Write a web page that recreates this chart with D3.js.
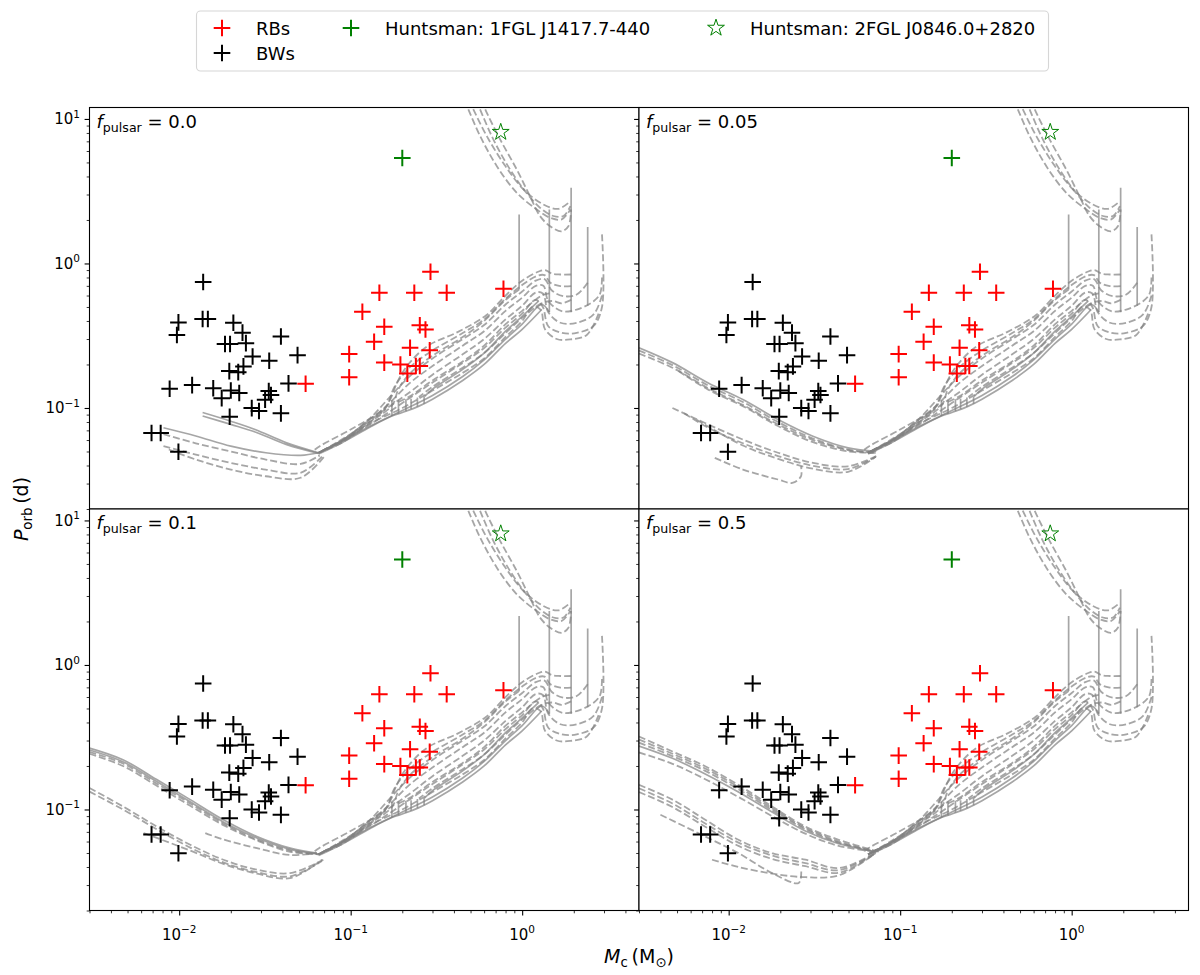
<!DOCTYPE html>
<html><head><meta charset="utf-8">
<script src="https://cdn.jsdelivr.net/npm/d3@7"></script>
<style>
body{margin:0;background:#fff}
svg{display:block}
text{font-family:"DejaVu Sans",sans-serif;fill:#000}
</style>
</head><body>
<svg id="chart" width="1200" height="975"></svg>
<script>
// ---------------- DATA ----------------
const rbMc = [0.292,0.147,0.235,0.363,0.778,0.117,0.157,0.253,0.273,0.137,0.222,0.289,0.098,0.157,0.195,0.214,0.240,0.253,0.098,0.0546];
const rbP  = [0.876,0.627,0.627,0.627,0.668,0.463,0.365,0.374,0.349,0.287,0.261,0.251,0.236,0.206,0.200,0.173,0.195,0.195,0.163,0.147];
const bwMc = [0.0138,0.0137,0.0147,0.0099,0.0097,0.0207,0.0234,0.0245,0.0185,0.0198,0.0392,0.0490,0.0268,0.0335,0.0237,0.0196,0.0221,0.0088,0.0119,0.0158,0.0200,0.0224,0.0177,0.0333,0.0343,0.0317,0.0434,0.0265,0.0292,0.0392,0.0197,0.0069,0.0078,0.0099];
const bwP  = [0.745,0.413,0.413,0.391,0.320,0.389,0.332,0.281,0.277,0.277,0.312,0.232,0.227,0.212,0.194,0.180,0.177,0.136,0.144,0.137,0.132,0.127,0.117,0.131,0.123,0.114,0.148,0.0998,0.0953,0.0918,0.087,0.0671,0.0671,0.0498];
const huntsman1 = [0.2, 5.37];   // 1FGL J1417.7-440
const huntsman2 = [0.75, 8.1];   // 2FGL J0846.0+2820
const fPulsar = ["0.0", "0.05", "0.1", "0.5"];
const xTicks = [0.01, 0.1, 1];
const xTickExp = ["\u22122", "\u22121", "0"];
const yTicks = [0.1, 1, 10];
const yTickExp = ["\u22121", "0", "1"];
const legendLabels = ["RBs", "BWs", "Huntsman: 1FGL J1417.7-440", "Huntsman: 2FGL J0846.0+2820"];

// evolutionary tracks [Mc, Porb] (shared by all panels)
const tracksUpper = [
  [[0.46,13.5],[0.486,11.6],[0.569,7.6],[0.712,4.71],[0.931,3.08],[1.218,2.36],[1.456,2.07],[1.70,2.02],[1.91,2.36]],
  [[0.49,13.5],[0.52,11.6],[0.622,7.6],[0.80,4.7],[1.02,3.25],[1.33,2.56],[1.63,2.39],[1.91,2.7]],
  [[0.54,13.5],[0.569,11.6],[0.68,7.2],[0.85,4.47],[1.06,3.08],[1.27,2.43],[1.52,2.13],[1.74,2.13],[1.91,2.49]],
  [[0.58,13.5],[0.61,11.6],[0.745,7.2],[0.93,4.47],[1.11,2.92],[1.27,2.13],[1.456,1.81],[1.70,1.67],[1.86,1.81],[1.93,2.36]]
];
const tracksVertical = [
  [[0.96,2.18],[0.96,0.66]],
  [[1.44,2.36],[1.44,0.46]],
  [[1.93,3.34],[1.93,0.46]],
  [[2.41,1.79],[2.41,0.51]]
];
const tracksFanDashed = [
  [[1.93,0.839],[1.67,0.839],[1.49,0.85],[1.36,0.9],[1.25,0.88],[1.0,0.76],[0.8,0.6],[0.62,0.44],[0.42,0.335],[0.28,0.268],[0.213,0.195],[0.186,0.149],[0.17,0.1145],[0.155,0.0977],[0.1,0.071],[0.066,0.0544],[0.06,0.05]],
  [[1.93,0.697],[1.67,0.697],[1.46,0.735],[1.35,0.83],[1.22,0.82],[1.0,0.71],[0.8,0.57],[0.6,0.41],[0.45,0.33],[0.3,0.25],[0.22,0.19],[0.18,0.14],[0.16,0.1],[0.12,0.075],[0.09,0.058],[0.065,0.049]],
  [[2.41,0.735],[2.08,0.61],[1.74,0.594],[1.49,0.65],[1.35,0.78],[1.2,0.76],[1.0,0.64],[0.8,0.52],[0.6,0.375],[0.45,0.3],[0.3,0.22],[0.22,0.165],[0.17,0.12],[0.13,0.085],[0.09,0.06],[0.065,0.049]],
  [[2.92,0.8],[2.85,0.62],[2.61,0.548],[2.08,0.48],[1.7,0.468],[1.42,0.55],[1.33,0.7],[1.2,0.7],[1.0,0.58],[0.8,0.47],[0.6,0.34],[0.45,0.27],[0.3,0.195],[0.22,0.148],[0.16,0.102],[0.12,0.078],[0.09,0.06],[0.065,0.049]],
  [[2.92,0.6],[2.61,0.444],[2.08,0.389],[1.67,0.389],[1.42,0.46],[1.32,0.62],[1.2,0.63],[1.0,0.51],[0.8,0.41],[0.6,0.3],[0.45,0.235],[0.3,0.17],[0.22,0.128],[0.15,0.093],[0.1,0.066],[0.065,0.049]],
  [[2.92,1.59],[2.92,0.5],[2.61,0.37],[2.08,0.331],[1.7,0.331],[1.42,0.368],[1.32,0.5],[1.2,0.56],[1.0,0.45],[0.8,0.36],[0.6,0.26],[0.45,0.205],[0.3,0.15],[0.22,0.117],[0.15,0.086],[0.1,0.064],[0.065,0.049]],
  [[2.79,0.45],[2.38,0.32],[1.91,0.298],[1.59,0.3],[1.36,0.35],[1.28,0.48],[1.15,0.5],[1.0,0.4],[0.8,0.31],[0.6,0.22],[0.45,0.175],[0.3,0.132],[0.2,0.1],[0.13,0.078],[0.09,0.06],[0.065,0.049]],
  [[1.44,0.62],[1.3,0.6],[1.0,0.47],[0.8,0.38],[0.6,0.27],[0.45,0.21],[0.3,0.155],[0.22,0.12],[0.19,0.11]],
  [[1.93,0.56],[1.7,0.53],[1.5,0.55],[1.3,0.53],[1.0,0.42],[0.8,0.33],[0.6,0.24],[0.45,0.19],[0.3,0.14],[0.25,0.119]],
  [[0.96,0.66],[0.8,0.56],[0.6,0.4],[0.45,0.31],[0.3,0.23],[0.22,0.172],[0.19,0.135],[0.175,0.105],[0.13,0.08],[0.09,0.06],[0.065,0.049]]
];
const tracksFanSolid = [
  [[1.3,0.48],[1.0,0.35],[0.8,0.28],[0.6,0.2],[0.45,0.155],[0.3,0.115],[0.25,0.103],[0.2,0.093],[0.174,0.088],[0.13,0.074],[0.09,0.058],[0.065,0.048]],
  [[1.44,0.46],[1.3,0.52],[1.0,0.38],[0.8,0.3],[0.6,0.215],[0.45,0.165],[0.3,0.122],[0.2,0.096],[0.13,0.075],[0.09,0.059],[0.065,0.049]],
  [[1.25,0.55],[1.0,0.43],[0.8,0.34],[0.6,0.24],[0.45,0.185],[0.3,0.135],[0.27,0.12]]
];
const tracksComb = [
  [[0.174,0.088],[0.174,0.113]],[[0.19,0.091],[0.19,0.114]],[[0.21,0.095],[0.21,0.115]],
  [[0.225,0.098],[0.225,0.116]],[[0.245,0.102],[0.245,0.118]],[[0.268,0.107],[0.268,0.12]]
];
// low-mass branches, one set per panel (f_pulsar)
const leftSolid_f000 = [
  [[0.0137,0.093],[0.02,0.081],[0.0277,0.071],[0.0423,0.0574],[0.065,0.049]],
  [[0.0137,0.088],[0.02,0.077],[0.028,0.068],[0.042,0.056],[0.065,0.0485]],
  [[0.0081,0.073],[0.0125,0.064],[0.02,0.0544],[0.032,0.049],[0.051,0.047],[0.065,0.049]]
];
const leftDashed_f000 = [
  [[0.0081,0.066],[0.0125,0.057],[0.02,0.05],[0.032,0.044],[0.051,0.041],[0.066,0.047]],
  [[0.0081,0.0544],[0.0125,0.0476],[0.02,0.0417],[0.032,0.0375],[0.051,0.0356],[0.068,0.046]],
  [[0.0087,0.0516],[0.0125,0.044],[0.02,0.0375],[0.032,0.0337],[0.051,0.0329],[0.07,0.046]]
];
const leftSolid_f005 = [
  [[0.003,0.261],[0.0047,0.206],[0.0076,0.149],[0.0121,0.1146],[0.0194,0.0832],[0.031,0.0638],[0.0497,0.053],[0.0726,0.0502]]
];
const leftDashed_f005 = [
  [[0.003,0.25],[0.0047,0.198],[0.0076,0.143],[0.0121,0.11],[0.0194,0.08],[0.031,0.0615],[0.05,0.0515],[0.072,0.049]],
  [[0.003,0.238],[0.0047,0.19],[0.0076,0.137],[0.0121,0.105],[0.0194,0.077],[0.031,0.06],[0.05,0.051],[0.072,0.049]],
  [[0.0051,0.18],[0.0076,0.134],[0.0121,0.103],[0.0194,0.075],[0.031,0.058],[0.05,0.05],[0.072,0.049]],
  [[0.0047,0.1],[0.0076,0.0769],[0.0121,0.0605],[0.0194,0.049],[0.031,0.0417],[0.0497,0.0395],[0.0726,0.0464]],
  [[0.0055,0.092],[0.0076,0.073],[0.0121,0.057],[0.0194,0.0465],[0.031,0.0398],[0.0497,0.0378],[0.072,0.046]],
  [[0.0065,0.083],[0.0121,0.055],[0.0194,0.0445],[0.031,0.038],[0.0497,0.0362],[0.072,0.046]],
  [[0.0083,0.0452],[0.0121,0.0375],[0.0194,0.032],[0.0235,0.0303],[0.0264,0.0337],[0.0264,0.0395]]
];
const leftSolid_f010 = [
  [[0.003,0.266],[0.0047,0.221],[0.0074,0.161],[0.0116,0.117],[0.0181,0.0849],[0.0284,0.065],[0.0444,0.054],[0.0635,0.0499]],
  [[0.003,0.258],[0.0047,0.214],[0.0074,0.156],[0.0116,0.113],[0.0181,0.082],[0.0284,0.0635],[0.0444,0.053],[0.0635,0.0495]]
];
const leftDashed_f010 = [
  [[0.003,0.25],[0.0047,0.208],[0.0074,0.151],[0.0116,0.11],[0.0181,0.08],[0.0284,0.062],[0.0444,0.052],[0.065,0.049]],
  [[0.003,0.243],[0.0047,0.2],[0.0074,0.146],[0.0116,0.106],[0.0181,0.078],[0.0284,0.061],[0.0444,0.051],[0.065,0.049]],
  [[0.003,0.141],[0.0047,0.105],[0.0074,0.0762],[0.0116,0.057],[0.0181,0.0449],[0.0284,0.0383],[0.0444,0.0363],[0.0693,0.0449]],
  [[0.003,0.133],[0.0047,0.1],[0.0074,0.073],[0.0116,0.0545],[0.0181,0.043],[0.0284,0.0368],[0.0444,0.0345],[0.068,0.044]],
  [[0.0062,0.0687],[0.0116,0.052],[0.0181,0.042],[0.0284,0.036],[0.0444,0.0335],[0.068,0.045]],
  [[0.0142,0.0687],[0.0181,0.062],[0.0284,0.054],[0.0444,0.0484],[0.0635,0.0499]]
];
const leftSolid_f050 = [
  [[0.003,0.275],[0.0047,0.226],[0.0073,0.176],[0.0114,0.132],[0.0179,0.096],[0.028,0.071],[0.0438,0.058],[0.072,0.051]]
];
const leftDashed_f050 = [
  [[0.003,0.32],[0.0047,0.252],[0.0073,0.199],[0.0114,0.148],[0.0179,0.105],[0.028,0.0762],[0.0438,0.0617],[0.075,0.051]],
  [[0.003,0.305],[0.0047,0.243],[0.0073,0.192],[0.0114,0.143],[0.0179,0.102],[0.028,0.0745],[0.0438,0.06],[0.072,0.051]],
  [[0.003,0.29],[0.0047,0.234],[0.0073,0.185],[0.0114,0.138],[0.0179,0.099],[0.028,0.073],[0.0438,0.059],[0.072,0.051]],
  [[0.003,0.248],[0.0047,0.207],[0.0073,0.162],[0.0114,0.122],[0.0179,0.09],[0.028,0.068],[0.0438,0.056],[0.072,0.051]],
  [[0.003,0.148],[0.0047,0.117],[0.0073,0.0849],[0.0114,0.0617],[0.0179,0.0499],[0.028,0.0449],[0.0438,0.0393],[0.072,0.05]],
  [[0.003,0.14],[0.0047,0.11],[0.0073,0.08],[0.0114,0.059],[0.0179,0.048],[0.028,0.0425],[0.0438,0.038],[0.072,0.05]],
  [[0.003,0.132],[0.0047,0.104],[0.0073,0.076],[0.0114,0.056],[0.0179,0.0455],[0.028,0.0405],[0.0438,0.0365],[0.072,0.05]],
  [[0.004,0.0919],[0.0073,0.065],[0.0114,0.0499],[0.0179,0.0363],[0.0256,0.031],[0.0265,0.0372]],
  [[0.008,0.0449],[0.0114,0.04],[0.0179,0.036],[0.028,0.034],[0.0438,0.035],[0.072,0.05]]
];
const leftSolidByPanel = [leftSolid_f000, leftSolid_f005, leftSolid_f010, leftSolid_f050];
const leftDashedByPanel = [leftDashed_f000, leftDashed_f005, leftDashed_f010, leftDashed_f050];

// ---------------- LAYOUT ----------------
const W = 549.5, H = 401.5;
const panelPos = [[89.5,107.5],[639,107.5],[89.5,509],[639,509]];
const svg = d3.select("#chart");
const x = d3.scaleLog().domain([0.003, 4.8]).range([0, W]);
const y = d3.scaleLog().domain([0.02, 12]).range([H, 0]);
const line = d3.line().x(d => x(d[0])).y(d => y(d[1])).curve(d3.curveCatmullRom.alpha(0.5));

const GRAY = "#808080", GA = 0.7;
const plusPath = "M-8.3,0H8.3M0,-8.3V8.3";
const starSym = d3.symbol().type(d3.symbolStar).size(88)();

const defs = svg.append("defs");
defs.append("clipPath").attr("id","pclip").append("rect").attr("width",W).attr("height",H);

function minorTicks(lo, hi){
  const out=[];
  for(let e=-3;e<=1;e++) for(let m=2;m<=9;m++){const v=m*Math.pow(10,e); if(v>=lo&&v<=hi) out.push(v);}
  return out;
}
const xMinor = minorTicks(0.003, 4.8);
const yMinor = minorTicks(0.02, 12);

panelPos.forEach((p, i) => {
  const g = svg.append("g").attr("transform", `translate(${p[0]},${p[1]})`);
  g.append("rect").attr("width",W).attr("height",H).attr("fill","#fff");
  const pl = g.append("g").attr("clip-path","url(#pclip)");

  const dashedSets = [tracksUpper, tracksFanDashed, leftDashedByPanel[i]];
  const solidSets = [tracksVertical, tracksFanSolid, tracksComb, leftSolidByPanel[i]];
  solidSets.forEach(set => pl.selectAll(null).data(set).enter().append("path")
    .attr("d", line).attr("fill","none").attr("stroke",GRAY).attr("stroke-opacity",GA)
    .attr("stroke-width",1.7));
  dashedSets.forEach(set => pl.selectAll(null).data(set).enter().append("path")
    .attr("d", line).attr("fill","none").attr("stroke",GRAY).attr("stroke-opacity",GA)
    .attr("stroke-width",1.8).attr("stroke-dasharray","7,3"));

  // points
  pl.selectAll(null).data(rbMc).enter().append("path")
    .attr("transform",(d,k)=>`translate(${x(d)},${y(rbP[k])})`)
    .attr("d",plusPath).attr("stroke","#ff0000").attr("stroke-width",2);
  pl.selectAll(null).data(bwMc).enter().append("path")
    .attr("transform",(d,k)=>`translate(${x(d)},${y(bwP[k])})`)
    .attr("d",plusPath).attr("stroke","#000").attr("stroke-width",2);
  pl.append("path").attr("transform",`translate(${x(huntsman1[0])},${y(huntsman1[1])})`)
    .attr("d",plusPath).attr("stroke","#008000").attr("stroke-width",2);
  pl.append("path").attr("transform",`translate(${x(huntsman2[0])},${y(huntsman2[1])})`)
    .attr("d",starSym).attr("fill","none").attr("stroke","#008000").attr("stroke-width",1);

  // annotation
  const t = g.append("text").attr("x",7).attr("y",20).attr("font-size",18);
  t.append("tspan").attr("font-style","italic").text("f");
  t.append("tspan").attr("font-size",12.6).attr("dy",4).text("pulsar");
  t.append("tspan").attr("dy",-4).text(" = " + fPulsar[i]);

  // y ticks (all panels, pointing left)
  const ya = g.append("g");
  ya.call(d3.axisLeft(y).tickValues(yTicks).tickSize(4.9).tickFormat(""))
    .call(s=>s.select(".domain").remove());
  ya.selectAll("line").attr("stroke","#000").attr("stroke-width",1.1);
  const yb = g.append("g");
  yb.call(d3.axisLeft(y).tickValues(yMinor).tickSize(2.8).tickFormat(""))
    .call(s=>s.select(".domain").remove());
  yb.selectAll("line").attr("stroke","#000").attr("stroke-width",0.8);
  if (i % 2 === 0) {
    yTicks.forEach((v,k)=>{
      const tx = g.append("text").attr("x",-9.5).attr("y",y(v)+5.5).attr("text-anchor","end").attr("font-size",15);
      tx.append("tspan").text("10");
      tx.append("tspan").attr("font-size",10.5).attr("dy",-6.5).text(yTickExp[k]);
    });
  }
  // x ticks (bottom panels)
  if (i >= 2) {
    const xa = g.append("g").attr("transform",`translate(0,${H})`);
    xa.call(d3.axisBottom(x).tickValues(xTicks).tickSize(4.9).tickFormat(""))
      .call(s=>s.select(".domain").remove());
    xa.selectAll("line").attr("stroke","#000").attr("stroke-width",1.1);
    const xb = g.append("g").attr("transform",`translate(0,${H})`);
    xb.call(d3.axisBottom(x).tickValues(xMinor).tickSize(2.8).tickFormat(""))
      .call(s=>s.select(".domain").remove());
    xb.selectAll("line").attr("stroke","#000").attr("stroke-width",0.8);
    xTicks.forEach((v,k)=>{
      const tx = g.append("text").attr("x",x(v)).attr("y",H+29).attr("text-anchor","middle").attr("font-size",15);
      tx.append("tspan").text("10");
      tx.append("tspan").attr("font-size",10.5).attr("dy",-6.5).text(xTickExp[k]);
    });
  }
  g.append("rect").attr("width",W).attr("height",H).attr("fill","none")
    .attr("stroke","#000").attr("stroke-width",1.1);
});

// axis labels
const xl = svg.append("text").attr("x",639).attr("y",963).attr("text-anchor","middle").attr("font-size",19);
xl.append("tspan").attr("font-style","italic").text("M");
xl.append("tspan").attr("font-size",13.3).attr("dy",4).text("c");
xl.append("tspan").attr("dy",-4).text("\u2009(M");
xl.append("tspan").attr("font-size",13.3).attr("dy",4).text("\u2299");
xl.append("tspan").attr("dy",-4).text(")");

const yl = svg.append("text").attr("transform","translate(28,509) rotate(-90)").attr("text-anchor","middle").attr("font-size",19);
yl.append("tspan").attr("font-style","italic").text("P");
yl.append("tspan").attr("font-size",13.3).attr("dy",4).text("orb");
yl.append("tspan").attr("dy",-4).text("\u2009(d)");

// legend
const lg = svg.append("g");
lg.append("rect").attr("x",196.5).attr("y",11).attr("width",852).attr("height",60).attr("rx",4)
  .attr("fill","#fff").attr("stroke","#d6d6d6").attr("stroke-width",1.1);
const legendItems = [
  {mx:222, my:28, tx:256, kind:"plus", color:"#ff0000"},
  {mx:222, my:53, tx:256, kind:"plus", color:"#000"},
  {mx:351, my:28, tx:385, kind:"plus", color:"#008000"},
  {mx:716, my:28, tx:750, kind:"star", color:"#008000"}
];
legendItems.forEach((it,k)=>{
  if (it.kind==="plus") lg.append("path").attr("transform",`translate(${it.mx},${it.my})`).attr("d",plusPath)
      .attr("stroke",it.color).attr("stroke-width",2);
  else lg.append("path").attr("transform",`translate(${it.mx},${it.my})`).attr("d",starSym)
      .attr("fill","none").attr("stroke",it.color).attr("stroke-width",1);
  lg.append("text").attr("x",it.tx).attr("y",it.my+6.5).attr("font-size",18).text(legendLabels[k]);
});
</script>
</body></html>
